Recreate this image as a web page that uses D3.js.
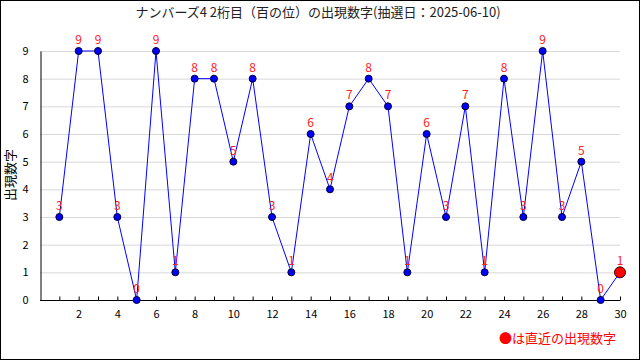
<!DOCTYPE html>
<html><head><meta charset="utf-8">
<script src="https://cdn.jsdelivr.net/npm/d3@7"></script>
<style>body{margin:0;background:#fff}svg{display:block}</style>
</head><body>
<svg id="c" width="640" height="360"></svg>
<script>
const draws = [1,2,3,4,5,6,7,8,9,10,11,12,13,14,15,16,17,18,19,20,21,22,23,24,25,26,27,28,29,30];
const digits = [3,9,9,3,0,9,1,8,8,5,8,3,1,6,4,7,8,7,1,6,3,7,1,8,3,9,3,5,0,1];
const yTicks = [0,1,2,3,4,5,6,7,8,9];
const xLabels = [2,4,6,8,10,12,14,16,18,20,22,24,26,28,30];
const title = "ナンバーズ4 2桁目（百の位）の出現数字(抽選日：2025-06-10)";
const yTitle = "出現数字";
const legendText = "●は直近の出現数字";

const font = "'Noto Sans CJK JP', 'DejaVu Sans', sans-serif";
const svg = d3.select("#c");
svg.append("rect").attr("x",0.5).attr("y",0.5).attr("width",639).attr("height",359)
  .attr("fill","#fff").attr("stroke","#000");

const x = d3.scaleLinear().domain([0,30]).range([40,620]);
const y = d3.scaleLinear().domain([0,9]).range([300,51]);

// grid
svg.append("g").selectAll("line").data(yTicks.filter(d=>d>0)).join("line")
  .attr("x1",40).attr("x2",620).attr("y1",d=>y(d)+0.5).attr("y2",d=>y(d)+0.5)
  .attr("stroke","#d8d8d8");

// y axis
const ya = svg.append("g").attr("transform","translate(40.5,0)")
  .call(d3.axisLeft(y).tickValues(yTicks).tickSize(0).tickPadding(12));
ya.select(".domain").attr("stroke","#000");
ya.selectAll("text").attr("font-family",font).attr("font-size",11).attr("fill","#000");

// x axis
const xa = svg.append("g").attr("transform","translate(0,300.5)")
  .call(d3.axisBottom(x).tickValues(d3.range(0,31)).tickSize(-4).tickPadding(10)
    .tickFormat(d=>xLabels.includes(d)?d:""));
xa.select(".domain").attr("stroke","#000").attr("d","M40,0H620");
xa.selectAll(".tick line").attr("stroke","#000");
xa.selectAll(".tick").filter(d=>d===0).remove();
xa.selectAll("text").attr("font-family",font).attr("font-size",11).attr("fill","#000");

// line
const pts = draws.map((d,i)=>({x:d,y:digits[i]}));
svg.append("path").datum(pts)
  .attr("d",d3.line().x(d=>x(d.x)).y(d=>y(d.y)))
  .attr("fill","none").attr("stroke","#0000ff").attr("stroke-width",1);

// points
svg.append("g").selectAll("circle").data(pts.slice(0,-1)).join("circle")
  .attr("cx",d=>x(d.x)).attr("cy",d=>y(d.y)).attr("r",3.5)
  .attr("fill","#0000ff").attr("stroke","#000033").attr("stroke-width",1);
const last = pts[pts.length-1];
svg.append("circle").attr("cx",x(last.x)).attr("cy",y(last.y)).attr("r",5.5)
  .attr("fill","#ff0000").attr("stroke","#330000").attr("stroke-width",1);

// labels
svg.append("g").selectAll("text").data(pts).join("text")
  .attr("x",d=>x(d.x)).attr("y",d=>y(d.y)-7)
  .attr("text-anchor","middle").attr("font-family",font).attr("font-size",12)
  .attr("fill","#ff2020").text(d=>d.y);

// title
svg.append("text").attr("x",318).attr("y",17).attr("text-anchor","middle")
  .attr("font-family",font).attr("font-size",13).attr("fill","#222").text(title);

// y title
svg.append("text").attr("transform","translate(15,175) rotate(-90)")
  .attr("text-anchor","middle").attr("font-family",font).attr("font-size",13)
  .attr("fill","#000").text(yTitle);

// legend
svg.append("text").attr("x",616).attr("y",343).attr("text-anchor","end")
  .attr("font-family",font).attr("font-size",13).attr("fill","#ff0000").text(legendText);
</script>
</body></html>
